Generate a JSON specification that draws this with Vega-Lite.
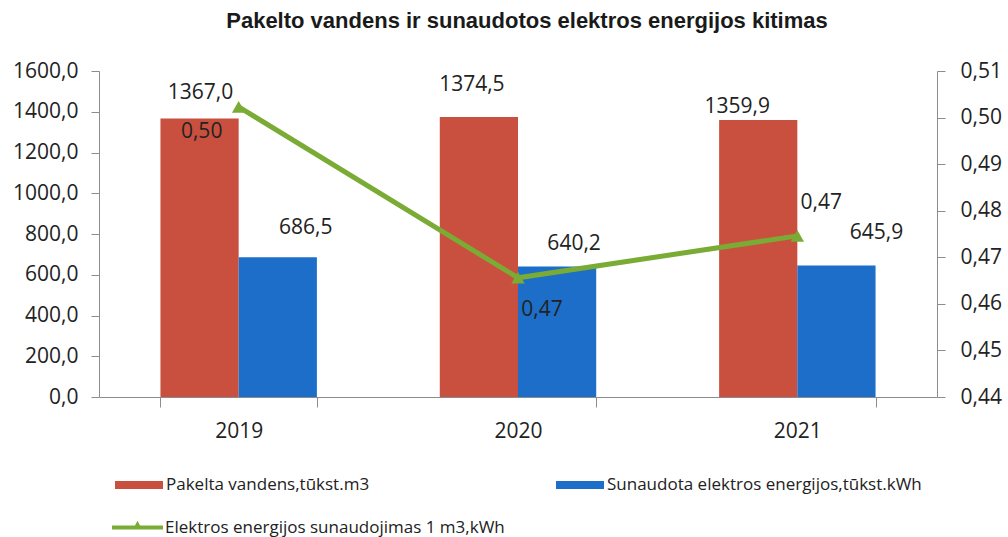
{
  "$schema": "https://vega.github.io/schema/vega-lite/v6.json",
  "autosize": {"type": "none"},
  "width": 838,
  "height": 326,
  "padding": {"left": 99, "top": 71, "right": 71, "bottom": 140},
  "background": "white",
  "title": {
    "text": "Pakelto vandens ir sunaudotos elektros energijos kitimas",
    "font": "Liberation Sans",
    "fontSize": 22,
    "fontWeight": "bold",
    "color": "#1a1a1a",
    "anchor": "middle",
    "frame": "group",
    "baseline": "alphabetic",
    "offset": 10,
    "dx": 9
  },
  "config": {
    "locale": {"number": {"decimal": ",", "thousands": ".", "grouping": [3], "currency": ["", ""]}},
    "view": {"stroke": null},
    "axis": {
      "labelFont": "Open Sans",
      "labelFontSize": 21,
      "labelColor": "#222222",
      "domainColor": "#8c8c8c",
      "tickColor": "#8c8c8c",
      "grid": false,
      "title": null
    },
    "text": {"font": "Open Sans", "fontSize": 21, "color": "#222222"}
  },
  "datasets": {
    "bars": [
      {"year": "2019", "series": "Pakelta vandens,tūkst.m3", "value": 1367.0},
      {"year": "2020", "series": "Pakelta vandens,tūkst.m3", "value": 1374.5},
      {"year": "2021", "series": "Pakelta vandens,tūkst.m3", "value": 1359.9},
      {"year": "2019", "series": "Sunaudota elektros energijos,tūkst.kWh", "value": 686.5},
      {"year": "2020", "series": "Sunaudota elektros energijos,tūkst.kWh", "value": 640.2},
      {"year": "2021", "series": "Sunaudota elektros energijos,tūkst.kWh", "value": 645.9}
    ],
    "line": [
      {"year": "2019", "series": "Elektros energijos sunaudojimas 1 m3,kWh", "ratio": 0.5023},
      {"year": "2020", "series": "Elektros energijos sunaudojimas 1 m3,kWh", "ratio": 0.4656},
      {"year": "2021", "series": "Elektros energijos sunaudojimas 1 m3,kWh", "ratio": 0.4746}
    ]
  },
  "encoding": {
    "x": {
      "field": "year",
      "type": "nominal",
      "scale": {"paddingInner": 0.44, "paddingOuter": 0.22},
      "axis": {"labelAngle": 0, "tickBand": "extent", "tickSize": 10, "labelPadding": 13}
    }
  },
  "layer": [
    {
      "data": {"name": "bars"},
      "encoding": {
        "y": {
          "field": "value",
          "type": "quantitative",
          "scale": {"domain": [0, 1600], "nice": false},
          "axis": {"values": [0, 200, 400, 600, 800, 1000, 1200, 1400, 1600], "format": ".1f", "tickSize": 8, "labelPadding": 13}
        },
        "xOffset": {
          "field": "series",
          "type": "nominal",
          "scale": {"domain": ["Pakelta vandens,tūkst.m3", "Sunaudota elektros energijos,tūkst.kWh"]}
        },
        "text": {"field": "value", "type": "quantitative", "format": ".1f"}
      },
      "layer": [
        {
          "mark": {"type": "bar"},
          "encoding": {
            "color": {
              "field": "series",
              "type": "nominal",
              "scale": {
                "domain": ["Pakelta vandens,tūkst.m3", "Sunaudota elektros energijos,tūkst.kWh"],
                "range": ["#c9503f", "#1c6ec8"]
              },
              "legend": {
                "orient": "none",
                "legendX": 16,
                "legendY": 390,
                "direction": "horizontal",
                "columns": 2,
                "columnPadding": 186,
                "title": null,
                "padding": 0,
                "symbolType": "M-1,-0.17H1V0.17H-1Z",
                "symbolSize": 2304,
                "symbolStrokeWidth": 0,
                "symbolOpacity": 1,
                "labelFont": "Open Sans",
                "labelFontSize": 17,
                "labelColor": "#222222",
                "labelOffset": 3,
                "labelLimit": 400
              }
            }
          }
        },
        {"transform": [{"filter": "datum.series === 'Pakelta vandens,tūkst.m3' && datum.year === '2019'"}], "mark": {"type": "text", "baseline": "middle", "dx": 1, "dy": -25}},
        {"transform": [{"filter": "datum.series === 'Pakelta vandens,tūkst.m3' && datum.year === '2020'"}], "mark": {"type": "text", "baseline": "middle", "dx": -7, "dy": -32}},
        {"transform": [{"filter": "datum.series === 'Pakelta vandens,tūkst.m3' && datum.year === '2021'"}], "mark": {"type": "text", "baseline": "middle", "dx": -21, "dy": -13}},
        {"transform": [{"filter": "datum.series !== 'Pakelta vandens,tūkst.m3' && datum.year === '2019'"}], "mark": {"type": "text", "baseline": "middle", "dx": 28, "dy": -29}},
        {"transform": [{"filter": "datum.series !== 'Pakelta vandens,tūkst.m3' && datum.year === '2020'"}], "mark": {"type": "text", "baseline": "middle", "dx": 17, "dy": -23}},
        {"transform": [{"filter": "datum.series !== 'Pakelta vandens,tūkst.m3' && datum.year === '2021'"}], "mark": {"type": "text", "baseline": "middle", "dx": 40, "dy": -32}}
      ]
    },
    {
      "data": {"name": "line"},
      "encoding": {
        "y": {
          "field": "ratio",
          "type": "quantitative",
          "scale": {"domain": [0.44, 0.51], "nice": false, "zero": false},
          "axis": {"orient": "right", "values": [0.44, 0.45, 0.46, 0.47, 0.48, 0.49, 0.5, 0.51], "format": ".2f", "tickSize": 8, "labelPadding": 15}
        },
        "text": {"field": "ratio", "type": "quantitative", "format": ".2f"}
      },
      "layer": [
        {
          "mark": {"type": "line", "strokeWidth": 5},
          "encoding": {
            "stroke": {
              "field": "series",
              "type": "nominal",
              "scale": {"domain": ["Elektros energijos sunaudojimas 1 m3,kWh"], "range": ["#7aab34"]},
              "legend": {
                "orient": "none",
                "legendX": 13,
                "legendY": 431,
                "title": null,
                "padding": 0,
                "symbolType": "M-1,-0.08H1V0.08H-1Z M-0.18,0.08L0,-0.26L0.18,0.08Z",
                "symbolSize": 2601,
                "symbolStrokeWidth": 0,
                "symbolFillColor": "#7aab34",
                "labelFont": "Open Sans",
                "labelFontSize": 17,
                "labelColor": "#222222",
                "labelOffset": 2,
                "labelLimit": 400,
                "encode": {"symbols": {"update": {"fill": {"value": "#7aab34"}, "strokeWidth": {"value": 0}, "opacity": {"value": 1}}}}
              }
            }
          }
        },
        {
          "mark": {"type": "point", "shape": "triangle-up", "filled": true, "size": 180, "color": "#7aab34", "opacity": 1}
        },
        {"transform": [{"filter": "datum.year === '2019'"}], "mark": {"type": "text", "baseline": "middle", "dx": -37, "dy": 25}},
        {"transform": [{"filter": "datum.year === '2020'"}], "mark": {"type": "text", "baseline": "middle", "dx": 24, "dy": 32}},
        {"transform": [{"filter": "datum.year === '2021'"}], "mark": {"type": "text", "baseline": "middle", "dx": 24, "dy": -33}}
      ]
    }
  ],
  "resolve": {"scale": {"y": "independent"}}
}
